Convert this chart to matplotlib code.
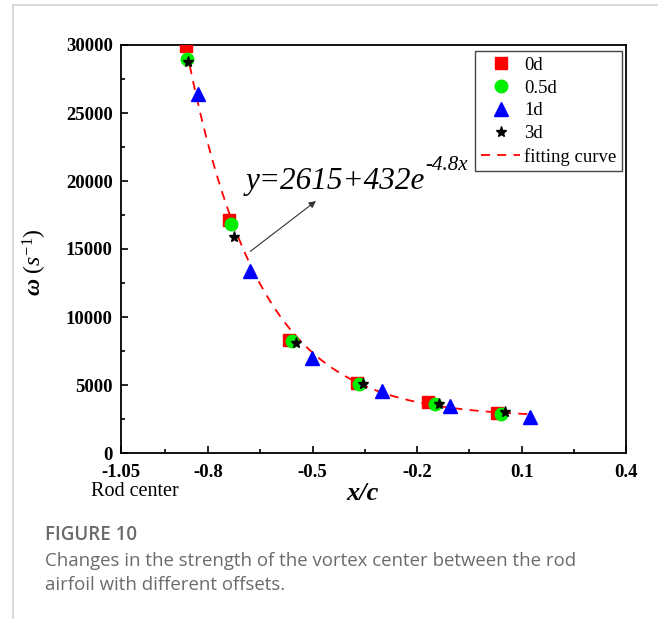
#!/usr/bin/env python

import matplotlib as mpl
mpl.use('Agg')

import matplotlib.pyplot as plt
from matplotlib.lines import Line2D
import numpy as np

# vortex centre strength for each rod offset
x_0d = [-0.863, -0.740, -0.568, -0.372, -0.169, 0.030]
w_0d = [29900, 17150, 8290, 5130, 3740, 2930]

x_05d = [-0.860, -0.734, -0.559, -0.367, -0.148, 0.041]
w_05d = [28970, 16840, 8215, 5060, 3590, 2860]

x_1d = [-0.830, -0.680, -0.502, -0.301, -0.105, 0.124]
w_1d = [26400, 13380, 6990, 4560, 3460, 2650]

x_3d = [-0.857, -0.726, -0.548, -0.355, -0.137, 0.052]
w_3d = [28750, 15880, 8070, 5100, 3570, 3050]

# fitted curve y = a + b*exp(c*x)
fit_a, fit_b, fit_c = 2615, 432, -4.8
fit_range = (-0.862, 0.13)

xticks = [-1.05, -0.8, -0.5, -0.2, 0.1, 0.4]
xminor = [-0.925, -0.65, -0.35, -0.05, 0.25]
yticks = [0, 5000, 10000, 15000, 20000, 25000, 30000]

serif = 'Liberation Serif'
plt.rcParams['font.family'] = serif
plt.rcParams['mathtext.fontset'] = 'custom'
plt.rcParams['mathtext.rm'] = serif
plt.rcParams['mathtext.it'] = serif + ':italic'
plt.rcParams['mathtext.bf'] = serif + ':bold:italic'

W, H = 658, 619
fig = plt.figure(figsize=(W/100, H/100), dpi=100)
ax = fig.add_axes([121/W, 1 - 453/H, 505/W, 408/H])

xf = np.linspace(fit_range[0], fit_range[1], 200)
ax.plot(xf, fit_a + fit_b*np.exp(fit_c*xf), color='red', ls=(0, (5, 4)),
        lw=1.3, zorder=2)

ax.plot(x_0d, w_0d, ls='none', marker='s', ms=8.5, color='red', mec='red', zorder=3)
ax.plot(x_05d, w_05d, ls='none', marker='o', ms=9, color='#00ee00', mec='#00ee00', zorder=4)
ax.plot(x_1d, w_1d, ls='none', marker='^', ms=9.5, color='blue', mec='blue', zorder=5)
ax.plot(x_3d, w_3d, ls='none', marker='*', ms=8, color='black', mec='black', zorder=6)

ax.set_xlim(-1.05, 0.4)
ax.set_ylim(0, 30000)
ax.set_xticks(xticks)
ax.set_xticklabels(['-1.05', '-0.8', '-0.5', '-0.2', '0.1', '0.4'])
ax.set_xticks(xminor, minor=True)
ax.set_yticks(yticks)
ax.set_yticks(np.arange(2500, 30000, 5000), minor=True)
ax.tick_params(which='both', direction='in', width=1.2, labelsize=13.5)
ax.tick_params(which='major', length=5)
ax.tick_params(which='minor', length=3)
ax.tick_params(axis='x', which='major', pad=8)
ax.tick_params(axis='y', which='major', pad=6)
for lab in ax.get_xticklabels() + ax.get_yticklabels():
    lab.set_fontweight('bold')
for sp in ax.spines.values():
    sp.set_linewidth(1.3)

ax.set_xlabel('x/c', fontsize=19, fontweight='bold', fontstyle='italic')
ax.xaxis.set_label_coords(0.478, -0.072)
ax.set_ylabel(r'$\mathbf{\omega}\ (s^{-1})$', fontsize=17)
ax.yaxis.set_label_coords(-0.142, 0.467)

fig.text(91/W, 1 - 492/H, 'Rod center', fontsize=14.5, va='center', ha='left')

# equation label and arrow pointing at the curve
eq = ax.text(-0.692, 19400, 'y=2615+432e', fontsize=22.5, fontstyle='italic')
ax.annotate('-4.8x', xy=(1.0, 0.72), xycoords=eq, va='bottom', ha='left',
            fontsize=15, fontstyle='italic')
ax.annotate('', xy=(-0.484, 18650), xytext=(-0.685, 14700),
            arrowprops=dict(arrowstyle='-|>', color='#333333', lw=0.8,
                            mutation_scale=10))

handles = [
    Line2D([], [], ls='none', marker='s', ms=8.5, color='red'),
    Line2D([], [], ls='none', marker='o', ms=9, color='#00ee00'),
    Line2D([], [], ls='none', marker='^', ms=9.5, color='blue'),
    Line2D([], [], ls='none', marker='*', ms=8, color='black'),
    Line2D([], [], color='red', ls=(0, (5, 4)), lw=1.3),
]
lg = ax.legend(handles, ['0d', '0.5d', '1d', '3d', 'fitting curve'],
               loc='upper right', bbox_to_anchor=(0.992, 0.985), fontsize=13.5,
               fancybox=False, framealpha=1, edgecolor='#444444',
               handlelength=2.1, handletextpad=0.2, labelspacing=0.3,
               borderpad=0.3, borderaxespad=0)
lg.get_frame().set_linewidth(1.0)

# card border and caption
fig.add_artist(Line2D([13/W, 1], [1 - 5/H, 1 - 5/H], color='#d4d4d4', lw=1.2))
fig.add_artist(Line2D([13/W, 13/W], [0, 1 - 5/H], color='#d4d4d4', lw=1.2))

cap_color = '#6b6b6b'
fig.text(45/W, 1 - 535/H, 'FIGURE 10', family='Open Sans', fontweight='semibold',
         fontsize=13.5, color=cap_color, va='center')
fig.text(45/W, 1 - 561/H,
         'Changes in the strength of the vortex center between the rod',
         family='Open Sans', fontsize=13.4, color=cap_color, va='center')
fig.text(45/W, 1 - 585/H, 'airfoil with different offsets.',
         family='Open Sans', fontsize=13.4, color=cap_color, va='center')

fig.savefig('out.png', dpi=100)
